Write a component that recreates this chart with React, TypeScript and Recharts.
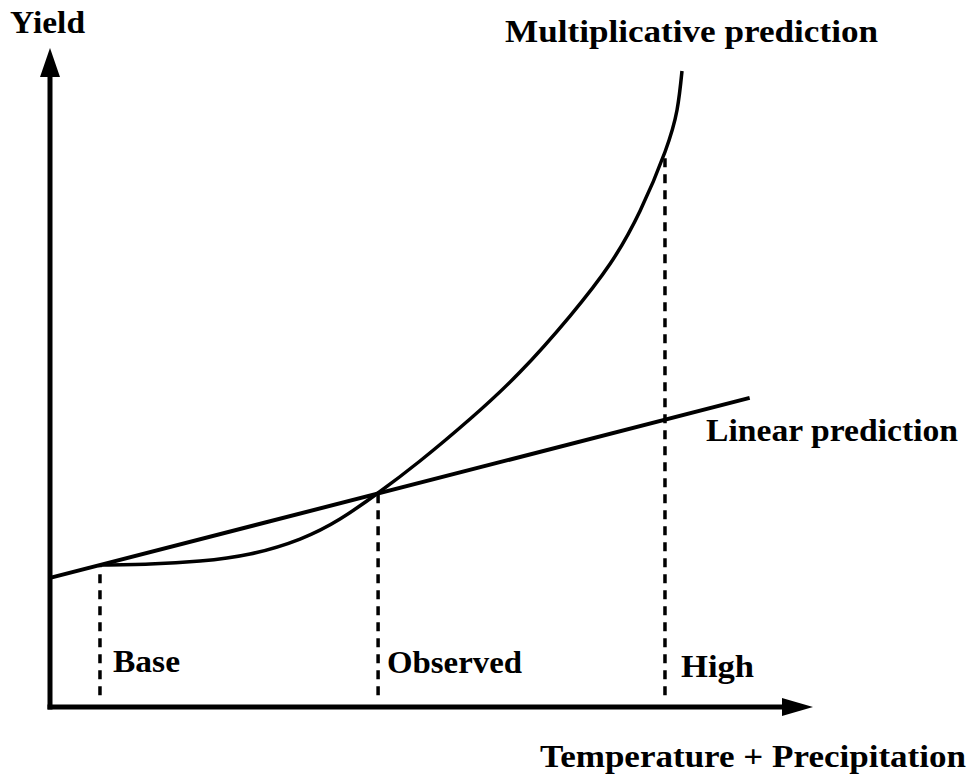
import { ComposedChart, Line, XAxis, YAxis, ReferenceLine, Scatter } from "recharts";

// Conceptual figure: yield vs. temperature + precipitation.
// Units are arbitrary (0-100 on both axes).

const linearX = [0, 91.7];
const linearY = [19.6, 46.9];

const multX = [6.55, 13.11, 19.66, 26.21, 32.77, 38.01, 42.99, 48.49, 55.05, 61.6, 68.15, 73.39, 77.33, 80.6, 82.18, 82.83];
const multY = [21.55, 21.7, 22.15, 23.22, 25.49, 28.53, 32.47, 37.33, 43.7, 50.83, 59.33, 67.22, 75.27, 84.22, 90.59, 96.51];

// scenario markers: x position, where the dashed drop line meets the curve
const scenarioNames = ["Base", "Observed", "High"];
const scenarioX = [6.55, 43.0, 80.6];
const scenarioTop = [21.5, 32.5, 84.2];
const dropBottom = 1.8;

const X_MAX = 100;
const Y_MAX = 100;

const FONT = "'Liberation Serif', 'DejaVu Serif', serif";

const linearData = linearX.map((x, i) => ({ x, y: linearY[i] }));
const multData = multX.map((x, i) => ({ x, y: multY[i] }));

// Arrowheads sit at the axis ends, placed through the scales
function ArrowRight(props: any) {
  const { cx, cy } = props;
  return <polygon points={`${cx},${cy} ${cx - 31},${cy - 9} ${cx - 31},${cy + 9}`} fill="#000" />;
}

function ArrowUp(props: any) {
  const { cx, cy } = props;
  return <polygon points={`${cx},${cy} ${cx - 10},${cy + 29} ${cx + 10},${cy + 29}`} fill="#000" />;
}

const labelStyle = { fontFamily: FONT, fontWeight: 700, fontSize: 32, fill: "#000" };

// text with a fixed width so the wider original typeface is matched
function Label({ x, y, w, children }: any) {
  return (
    <text x={x} y={y} style={labelStyle} textLength={w} lengthAdjust="spacingAndGlyphs">
      {children}
    </text>
  );
}

export default function App() {
  return (
    <div style={{ position: "absolute", left: 0, top: 0, width: 969, height: 780, background: "#fff" }}>
      <ComposedChart width={969} height={780} margin={{ top: 48, right: 156, bottom: 73, left: 50 }}>
        <XAxis type="number" dataKey="x" domain={[0, X_MAX]} hide />
        <YAxis type="number" dataKey="y" domain={[0, Y_MAX]} hide />

        {/* axes */}
        <ReferenceLine segment={[{ x: 0, y: 0 }, { x: X_MAX - 2, y: 0 }]} stroke="#000" strokeWidth={5} strokeLinecap="square" />
        <ReferenceLine segment={[{ x: 0, y: 0 }, { x: 0, y: Y_MAX - 2 }]} stroke="#000" strokeWidth={5} strokeLinecap="square" />

        {/* dashed drop lines */}
        {scenarioX.map((x, i) => (
          <ReferenceLine
            key={scenarioNames[i]}
            segment={[{ x, y: dropBottom }, { x, y: scenarioTop[i] }]}
            stroke="#000"
            strokeWidth={3.5}
            strokeDasharray="9 7"
          />
        ))}

        <Line data={linearData} dataKey="y" type="linear" stroke="#000" strokeWidth={4} dot={false} isAnimationActive={false} />
        <Line data={multData} dataKey="y" type="natural" stroke="#000" strokeWidth={3.5} dot={false} isAnimationActive={false} />

        <Scatter data={[{ x: X_MAX, y: 0 }]} shape={<ArrowRight />} isAnimationActive={false} />
        <Scatter data={[{ x: 0, y: Y_MAX }]} shape={<ArrowUp />} isAnimationActive={false} />

        <Label x={10} y={33} w={75}>Yield</Label>
        <Label x={505} y={42} w={373}>Multiplicative prediction</Label>
        <Label x={706} y={441} w={252}>Linear prediction</Label>
        <Label x={113} y={672} w={67}>{scenarioNames[0]}</Label>
        <Label x={387} y={673} w={135}>{scenarioNames[1]}</Label>
        <Label x={681} y={677} w={73}>{scenarioNames[2]}</Label>
        <Label x={540} y={767} w={426}>Temperature + Precipitation</Label>
      </ComposedChart>
    </div>
  );
}
